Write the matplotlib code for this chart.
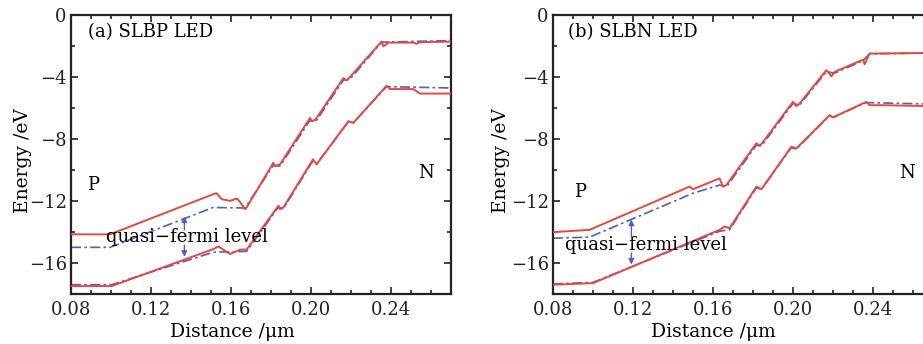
import matplotlib
matplotlib.use("Agg")
import matplotlib.pyplot as plt
from matplotlib.ticker import MultipleLocator

plt.rcParams['font.family'] = ['DejaVu Serif']
plt.rcParams['mathtext.fontset'] = 'dejavuserif'

# ---- Panel (a) SLBP LED ----
xa_cb = [0.080, 0.0995, 0.1520, 0.1528, 0.1553, 0.1595, 0.1630, 0.1645, 0.1670, 0.1678, 0.1812, 0.1820,
         0.1845, 0.1995, 0.2003, 0.2022, 0.2162, 0.2178, 0.2195, 0.2353, 0.2362, 0.2387, 0.2512, 0.2528,
         0.2545, 0.2700]
ya_cb = [-14.15, -14.15, -11.52, -11.50, -11.88, -11.99, -11.84, -12.06, -12.53, -12.42, -9.53, -9.74,
         -9.64, -6.64, -6.85, -6.75, -4.07, -4.22, -4.00, -1.71, -2.03, -1.78, -1.78, -1.86,
         -1.75, -1.72]
xa_fn = [0.080, 0.0995, 0.1510, 0.1670, 0.1812, 0.1845, 0.1995, 0.2022, 0.2162, 0.2195, 0.2353, 0.2700]
ya_fn = [-14.99, -14.99, -12.42, -12.45, -9.70, -9.75, -6.80, -6.90, -4.20, -4.15, -1.75, -1.65]
xa_vb = [0.080, 0.1003, 0.1512, 0.1537, 0.1595, 0.1645, 0.1678, 0.1837, 0.1845, 0.1862, 0.2010, 0.2028,
         0.2187, 0.2212, 0.2378, 0.2395, 0.2512, 0.2545, 0.2700]
ya_vb = [-17.49, -17.49, -15.10, -14.93, -15.42, -15.14, -15.14, -12.31, -12.53, -12.42, -9.31, -9.64,
         -6.85, -6.96, -4.56, -4.78, -4.78, -5.07, -5.07]
xa_fp = [0.080, 0.1003, 0.1512, 0.1678, 0.1837, 0.1862, 0.2010, 0.2028, 0.2187, 0.2212, 0.2378, 0.2700]
ya_fp = [-17.40, -17.40, -15.30, -15.25, -12.40, -12.50, -9.40, -9.60, -6.90, -6.95, -4.62, -4.71]

# ---- Panel (b) SLBN LED ----
xb_cb = [0.080, 0.0983, 0.1483, 0.1500, 0.1633, 0.1650, 0.1667, 0.1817, 0.1833, 0.1842, 0.2000, 0.2017,
         0.2033, 0.2167, 0.2192, 0.2208, 0.2350, 0.2358, 0.2383, 0.2700]
yb_cb = [-14.01, -13.86, -11.07, -11.24, -10.54, -11.07, -10.97, -8.28, -8.43, -8.33, -5.60, -5.88,
         -5.71, -3.56, -3.95, -3.67, -2.88, -3.18, -2.49, -2.45]
xb_fn = [0.080, 0.0983, 0.1500, 0.1633, 0.1667, 0.1817, 0.1842, 0.2000, 0.2033, 0.2167, 0.2208, 0.2350,
         0.2383, 0.2700]
yb_fn = [-14.40, -14.33, -11.50, -10.97, -11.10, -8.40, -8.45, -5.70, -5.80, -3.65, -3.75, -2.95,
         -2.50, -2.45]
xb_vb = [0.080, 0.1000, 0.1633, 0.1658, 0.1683, 0.1817, 0.1842, 0.1992, 0.2017, 0.2183, 0.2200, 0.2367,
         0.2383, 0.2450, 0.2700]
yb_vb = [-17.40, -17.30, -13.86, -13.65, -13.76, -11.07, -11.24, -8.50, -8.61, -6.46, -6.61, -5.60,
         -5.82, -5.82, -5.88]
xb_fp = [0.080, 0.1000, 0.1633, 0.1683, 0.1817, 0.1842, 0.1992, 0.2017, 0.2183, 0.2200, 0.2367, 0.2700]
yb_fp = [-17.35, -17.25, -13.95, -13.85, -11.15, -11.25, -8.55, -8.65, -6.50, -6.60, -5.65, -5.75]

titles = ["(a) SLBP LED", "(b) SLBN LED"]
xticks = [0.08, 0.12, 0.16, 0.20, 0.24]
xticklabels = ["0.08", "0.12", "0.16", "0.20", "0.24"]
yticks = [0, -4, -8, -12, -16]

RED = '#e8473b'
BLUE = '#4c5fc4'

fig = plt.figure(figsize=(9.23, 3.44), dpi=100)
W, H = 923, 344
axa = fig.add_axes([71 / W, 50 / H, 380 / W, 279 / H])
axb = fig.add_axes([553 / W, 50 / H, 380 / W, 279 / H])

panels = [
    (axa, xa_cb, ya_cb, xa_fn, ya_fn, xa_vb, ya_vb, xa_fp, ya_fp),
    (axb, xb_cb, yb_cb, xb_fn, yb_fn, xb_vb, yb_vb, xb_fp, yb_fp),
]
title_pos = [(0.0885, -1.1), (0.0875, -1.1)]
p_pos = [(0.088, -11.0), (0.0905, -11.4)]
n_pos = [(0.2537, -10.2), (0.2533, -10.2)]
q_pos = [(0.0975, -14.35), (0.0858, -14.83)]
arrow_x = [0.1367, 0.1192]
arrow_up = [(-13.85, -13.0), (-14.35, -13.2)]
arrow_dn = [(-14.85, -15.6), (-15.35, -16.1)]
ylab_x = [-0.103, -0.113]
xlab_x = [0.424, 0.421]

for i, (ax, xcb, ycb, xfn, yfn, xvb, yvb, xfp, yfp) in enumerate(panels):
    ax.plot(xfn, yfn, color=BLUE, lw=1.2, ls=(0, (6, 2, 1.5, 2)), zorder=2)
    ax.plot(xfp, yfp, color=BLUE, lw=1.2, ls=(0, (6, 2, 1.5, 2)), zorder=2)
    ax.plot(xcb, ycb, color=RED, lw=1.4, zorder=3)
    ax.plot(xvb, yvb, color=RED, lw=1.4, zorder=3)
    ax.set_xlim(0.08, 0.27)
    ax.set_ylim(-18, 0)
    ax.set_xticks(xticks)
    ax.set_xticklabels(xticklabels)
    ax.set_yticks(yticks)
    ax.xaxis.set_minor_locator(MultipleLocator(0.01))
    ax.yaxis.set_minor_locator(MultipleLocator(2))
    ax.tick_params(which='both', direction='in', top=True, right=True, labelsize=13, width=1.2,
                   colors='#222222')
    ax.tick_params(axis='y', pad=3)
    ax.tick_params(axis='x', pad=5)
    ax.tick_params(which='major', length=5)
    ax.tick_params(which='minor', length=3)
    for s in ax.spines.values():
        s.set_linewidth(1.6)
        s.set_color('#222222')
    ax.set_xlabel("Distance /μm", fontsize=13.5)
    ax.set_ylabel("Energy /eV", fontsize=13.5)
    ax.xaxis.set_label_coords(xlab_x[i], -0.105)
    ax.yaxis.set_label_coords(ylab_x[i], 0.48)
    ax.text(*title_pos[i], titles[i], fontsize=13, va='center', ha='left')
    ax.text(*p_pos[i], "P", fontsize=13, va='center', ha='left')
    ax.text(*n_pos[i], "N", fontsize=13, va='center', ha='left')
    ax.text(*q_pos[i], "quasi−fermi level", fontsize=13, va='center', ha='left', zorder=4)
    for seg in (arrow_up[i], arrow_dn[i]):
        ax.annotate("", xy=(arrow_x[i], seg[1]), xytext=(arrow_x[i], seg[0]),
                    arrowprops=dict(arrowstyle='-|>', color=BLUE, lw=1.0, mutation_scale=8,
                                    shrinkA=0, shrinkB=0))

fig.savefig("out.png", dpi=100)
